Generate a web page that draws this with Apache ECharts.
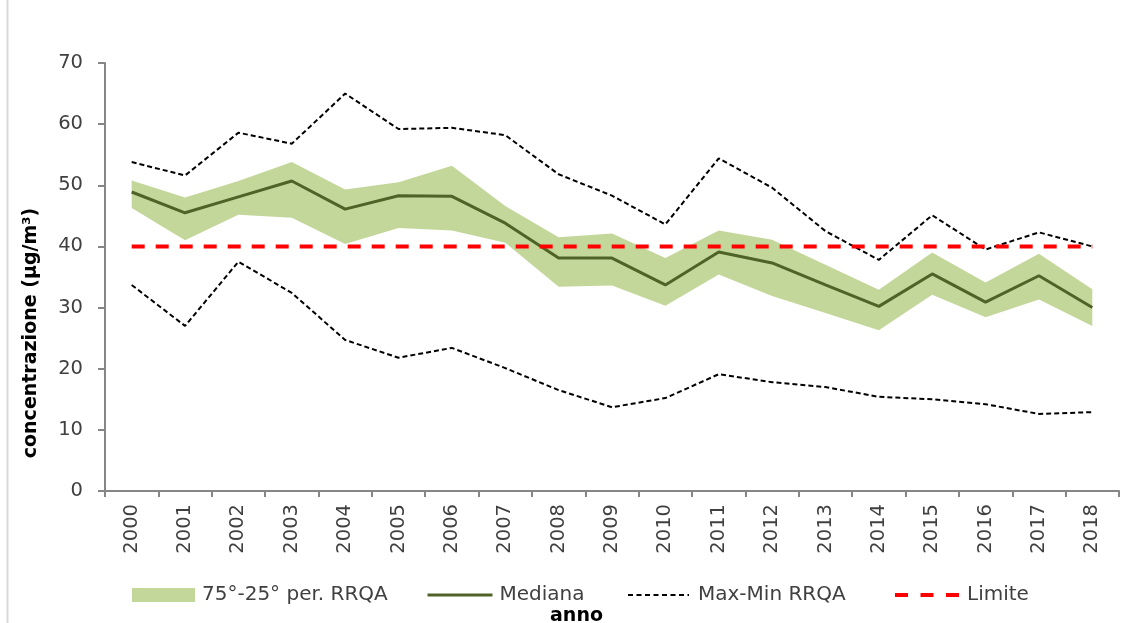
<!DOCTYPE html>
<html>
<head>
<meta charset="utf-8">
<script src="https://cdn.jsdelivr.net/npm/echarts@6/dist/echarts.min.js"></script>
<style>html,body{margin:0;padding:0;background:#fff}#c{width:1126px;height:623px}</style>
</head>
<body>
<div id="c"></div>
<script>
var years = ['2000','2001','2002','2003','2004','2005','2006','2007','2008','2009','2010','2011','2012','2013','2014','2015','2016','2017','2018'];
var p75 = [50.8,48.0,50.7,53.8,49.3,50.5,53.2,46.6,41.5,42.1,38.1,42.6,41.1,37.0,32.9,39.0,34.1,38.8,33.0];
var p25 = [46.3,41.0,45.2,44.7,40.4,43.0,42.6,40.6,33.4,33.6,30.3,35.4,31.9,29.1,26.3,32.1,28.4,31.3,27.0];
var mediana = [48.9,45.5,48.1,50.7,46.1,48.3,48.2,43.8,38.1,38.1,33.7,39.1,37.3,33.7,30.2,35.5,30.9,35.2,30.0];
var maxV = [53.8,51.6,58.6,56.8,65.0,59.2,59.4,58.2,51.8,48.3,43.6,54.4,49.6,42.5,37.8,45.1,39.5,42.3,40.0];
var minV = [33.7,27.0,37.5,32.4,24.7,21.8,23.4,20.1,16.5,13.7,15.2,19.1,17.8,17.0,15.4,15.0,14.2,12.6,12.9];
var limite = [40,40,40,40,40,40,40,40,40,40,40,40,40,40,40,40,40,40,40];
var yTicks = {min:0, max:70, interval:10};

var bandH = p75.map(function(v,i){return +(v - p25[i]).toFixed(2);});
var FONT = 'DejaVu Sans';
var TXT = '#404040';
var AX = '#868686';
var C_BAND = '#c4d79b', C_MED = '#4f6228', C_LIM = '#ff0000';

function mkLegend(name, left, w, lineStyle, pad){
  var l = {
    data: [lineStyle ? {name:name} : {name:name, icon:'rect'}],
    left: left, top: 585, padding: 0, itemWidth: w, itemHeight: lineStyle ? 16 : 14,
    selectedMode: false,
    textStyle: {fontFamily: FONT, fontSize: 20, color: TXT, padding:[0,0,0,pad]}
  };
  if (lineStyle) {
    l.itemStyle = {opacity: 0, color: 'transparent', borderWidth: 0};
    l.lineStyle = lineStyle;
  }
  return l;
}

var chart = echarts.init(document.getElementById('c'), null, {renderer:'canvas'});
chart.setOption({
  animation: false,
  backgroundColor: '#ffffff',
  graphic: [{type:'line', shape:{x1:7.5,y1:0,x2:7.5,y2:623}, style:{stroke:'#d9d9d9', lineWidth:2}}],
  grid: {left: 105, right: 7, top: 63, bottom: 132, containLabel: false, outerBoundsMode: 'none'},
  legend: [
    mkLegend('75°-25° per. RRQA', 132, 63, null, 2),
    mkLegend('Mediana', 426, 65, {color: C_MED, width: 3, type: 'solid'}, 2),
    mkLegend('Max-Min RRQA', 627, 61, {color: '#000', width: 2, type: [5, 3.5]}, 4),
    mkLegend('Limite', 893, 64, {color: C_LIM, width: 4, type: [13, 12.5]}, 3)
  ],
  xAxis: {
    type: 'category', data: years, boundaryGap: true,
    name: 'anno', nameLocation: 'middle', nameGap: 116,
    nameTextStyle: {fontFamily: FONT, fontSize: 19, fontWeight: 'bold', color: '#000', padding:[0,71,0,0]},
    axisLine: {lineStyle: {color: AX, width: 2}},
    axisTick: {show: true, length: 6, interval: 0, lineStyle: {color: AX, width: 2}},
    axisLabel: {rotate: 90, margin: 13, interval: 0, fontFamily: FONT, fontSize: 19.5, color: TXT},
    splitLine: {show: false}
  },
  yAxis: {
    type: 'value', min: yTicks.min, max: yTicks.max, interval: yTicks.interval,
    name: 'concentrazione (µg/m³)', nameLocation: 'middle', nameGap: 64,
    nameTextStyle: {fontFamily: FONT, fontSize: 19, fontWeight: 'bold', color: '#000', padding:[0,112,0,0]},
    axisLine: {show: true, lineStyle: {color: AX, width: 2}},
    axisTick: {show: true, length: 7, lineStyle: {color: AX, width: 2}},
    axisLabel: {margin: 22, fontFamily: FONT, fontSize: 19.5, color: TXT},
    splitLine: {show: false}
  },
  series: [
    {name: 'p25base', type: 'line', stack: 'band', data: p25, symbol: 'none', silent: true,
     lineStyle: {opacity: 0}, itemStyle: {color: 'transparent'}},
    {name: '75°-25° per. RRQA', type: 'line', stack: 'band', data: bandH, symbol: 'none', silent: true,
     lineStyle: {opacity: 0}, itemStyle: {color: C_BAND}, areaStyle: {color: C_BAND, opacity: 1}},
    {name: 'Mediana', type: 'line', data: mediana, symbol: 'none',
     itemStyle: {color: C_MED}, lineStyle: {color: C_MED, width: 3}},
    {name: 'Max-Min RRQA', type: 'line', data: maxV, symbol: 'none',
     itemStyle: {color: '#000'}, lineStyle: {color: '#000', width: 2, type: [5, 3]}},
    {name: 'Max-Min RRQA', type: 'line', data: minV, symbol: 'none',
     itemStyle: {color: '#000'}, lineStyle: {color: '#000', width: 2, type: [5, 3]}},
    {name: 'Limite', type: 'line', data: limite, symbol: 'none',
     itemStyle: {color: C_LIM}, lineStyle: {color: C_LIM, width: 4, type: [13, 11]}}
  ]
});
</script>
</body>
</html>
